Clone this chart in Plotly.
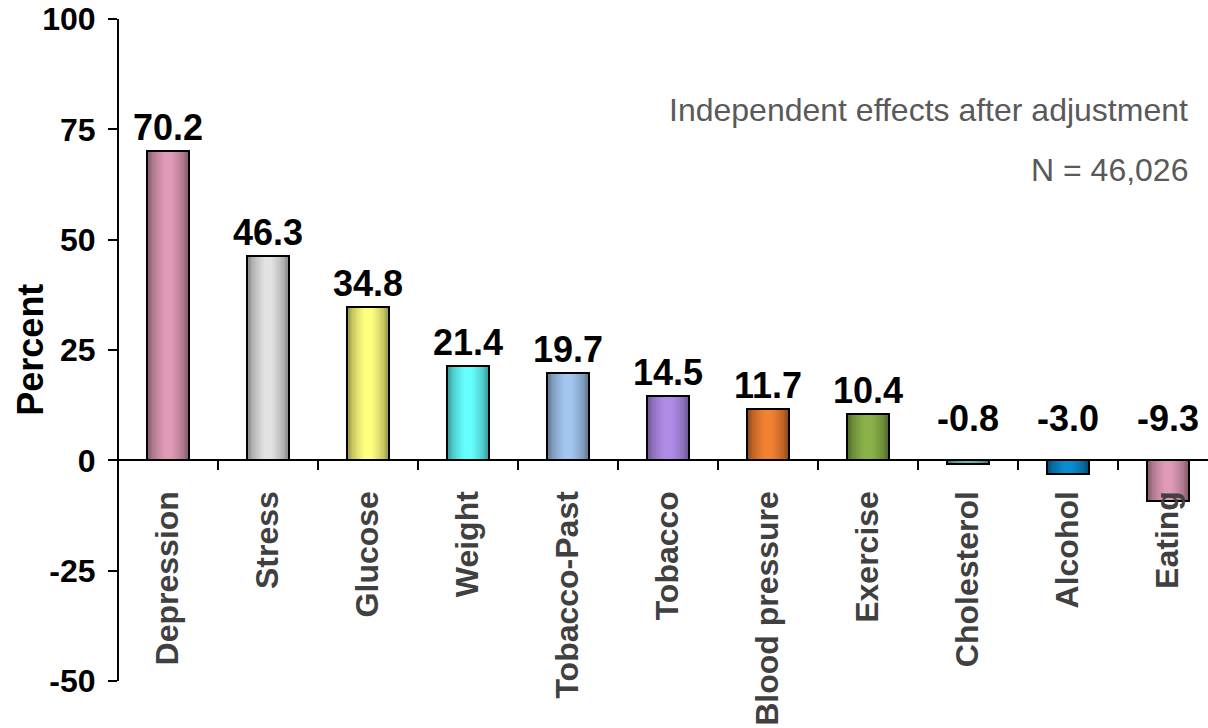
import plotly.graph_objects as go

categories = ["Depression", "Stress", "Glucose", "Weight", "Tobacco-Past", "Tobacco",
              "Blood pressure", "Exercise", "Cholesterol", "Alcohol", "Eating"]
values = [70.2, 46.3, 34.8, 21.4, 19.7, 14.5, 11.7, 10.4, -0.8, -3.0, -9.3]
light_colors = ["#DE9AB6", "#E2E2E2", "#FFFF80", "#66FFFF", "#A2C6F0", "#B08CE8",
                "#F28232", "#8AB24A", "#6CB8B8", "#0A8CD0", "#DE9AB6"]
dark_colors = ["#74505F", "#7A7A7A", "#86863E", "#2E8A8A", "#56687F", "#634F88",
               "#7E4016", "#475E24", "#3A6464", "#034266", "#74505F"]

y_ticks = [-50, -25, 0, 25, 50, 75, 100]
y_tick_labels = ["-50", "-25", "0", "25", "50", "75", "100"]
note_lines = ["Independent effects after adjustment", "N = 46,026"]

FONT = "Liberation Sans, Arial, sans-serif"
BAR_W = 0.42


def hex2rgb(h):
    h = h.lstrip("#")
    return tuple(int(h[i:i + 2], 16) for i in (0, 2, 4))


def mix(c1, c2, t):
    a, b = hex2rgb(c1), hex2rgb(c2)
    return "rgb(%d,%d,%d)" % tuple(round(a[i] + (b[i] - a[i]) * t) for i in range(3))


fig = go.Figure()

steps = 14
for k in range(steps):
    frac = k / (steps - 1)
    w = BAR_W * (1 - 0.8 * frac)
    t = frac ** 0.55
    fig.add_trace(go.Bar(
        x=categories, y=values, width=w,
        marker=dict(color=[mix(d, l, t) for d, l in zip(dark_colors, light_colors)],
                    line=dict(width=0)),
        hoverinfo="skip", showlegend=False,
    ))

fig.add_trace(go.Bar(
    x=categories, y=values, width=BAR_W,
    marker=dict(color="rgba(0,0,0,0)", line=dict(color="black", width=2)),
    showlegend=False,
))

for c, v in zip(categories, values):
    fig.add_annotation(
        x=c, y=max(v, 0), xref="x", yref="y",
        text="%.1f" % v, showarrow=False,
        yanchor="bottom", xanchor="center",
        yshift=1 if v >= 0 else 19,
        font=dict(family=FONT, size=36, color="black", weight="bold"),
    )

fig.add_annotation(
    x=0.9835, y=0.8625, xref="paper", yref="paper", text=note_lines[0],
    showarrow=False, xanchor="right", yanchor="middle",
    font=dict(family=FONT, size=32, color="#595959"),
)
fig.add_annotation(
    x=0.9835, y=0.772, xref="paper", yref="paper", text=note_lines[1],
    showarrow=False, xanchor="right", yanchor="middle",
    font=dict(family=FONT, size=32, color="#595959"),
)
fig.add_annotation(
    x=-0.082, y=0.5, xref="paper", yref="paper", text="Percent",
    showarrow=False, xanchor="center", yanchor="middle", textangle=-90,
    font=dict(family=FONT, size=36, color="black", weight="bold"),
)

fig.update_layout(
    width=1208, height=728,
    margin=dict(l=119, r=0, t=19, b=47, autoexpand=False),
    paper_bgcolor="white", plot_bgcolor="white",
    barmode="overlay", bargap=0,
    xaxis=dict(
        type="category", range=[-0.49, 10.40],
        anchor="free", position=1 / 3, automargin=False,
        showline=True, linecolor="black", linewidth=2,
        ticks="outside", ticklen=9, tickwidth=2, tickcolor="black",
        tickson="boundaries", tickangle=-90, ticklabelstandoff=17,
        tickfont=dict(family=FONT, size=32, color="#404040", weight="bold"),
        showgrid=False, zeroline=False,
    ),
    yaxis=dict(
        range=[-50, 100], tickvals=y_ticks, ticktext=y_tick_labels, automargin=False,
        showline=True, linecolor="black", linewidth=2,
        ticks="outside", ticklen=9, tickwidth=2, tickcolor="black",
        ticklabelstandoff=6,
        tickfont=dict(family=FONT, size=32, color="black", weight="bold"),
        showgrid=False, zeroline=False,
    ),
)

fig.write_html("out.html")
